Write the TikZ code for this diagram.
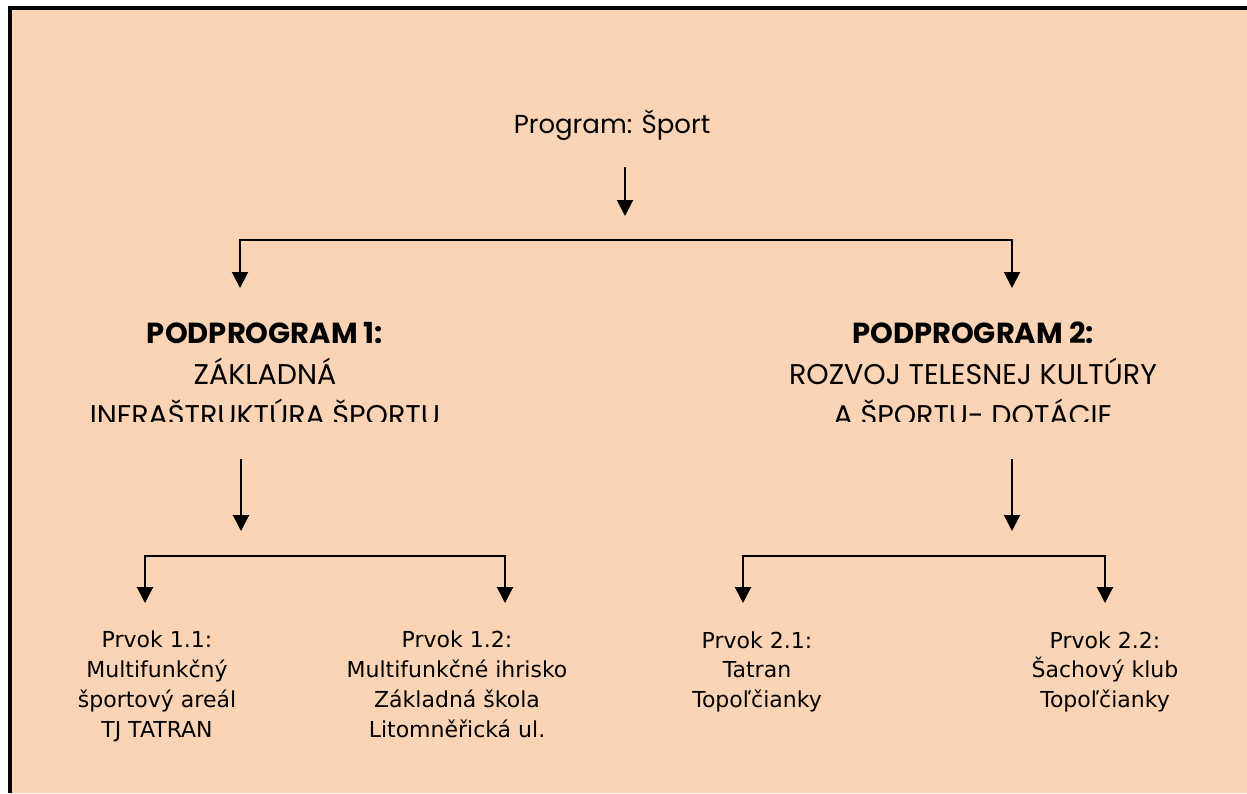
\documentclass[tikz,border=0pt]{standalone}
\usepackage{fontspec}
\setmainfont{DejaVu Sans}
\newfontfamily\geofont{Poppins}
\usetikzlibrary{arrows.meta}
\definecolor{peach}{HTML}{FAD4B4}
\newcommand{\subhead}[1]{{\fontsize{29}{41}\selectfont\bfseries #1}}
\begin{document}
\begin{tikzpicture}[x=1pt,y=-1pt,
  link/.style={line width=2pt},
  tip/.tip={Triangle[width=16pt,length=16pt]},
  arr/.style={link,-tip},
  fork/.style={link,tip-tip},
  progtext/.style={inner sep=0pt,font=\geofont\fontsize{26}{41}\selectfont},
  subtext/.style={inner sep=0pt,align=center,font=\geofont\fontsize{28.5}{41}\selectfont},
  itemtext/.style={inner sep=0pt,align=center,font=\fontsize{22}{29.7}\selectfont}
]
\useasboundingbox (0,0) rectangle (1247,793);
% page background and frame
\fill[peach] (12,10) rectangle (1247,793);
\fill[black] (8,6) rectangle (1247,10);
\fill[black] (8,6) rectangle (12,793);

% program
\node[progtext,anchor=base] (prog) at (612,133) {Program: Šport};
\coordinate (p0) at (625,167);
\coordinate (p1) at (625,216);
\draw[arr] (p0) -- (p1);

% fork to the two subprograms
\coordinate (fL) at (240,288);
\coordinate (fLc) at (240,240);
\coordinate (fRc) at (1012,240);
\coordinate (fR) at (1012,288);
\draw[fork] (fL) -- (fLc) -- (fRc) -- (fR);

% subprogram titles, cut at the bottom of their frame
% (anchor base = baseline of the last line)
\begin{scope}
\clip (0,300) rectangle (1247,421);
\node[subtext,anchor=base] (sp1) at (265,425)
  {\subhead{PODPROGRAM 1:}\\ZÁKLADNÁ\\INFRAŠTRUKTÚRA ŠPORTU};
\node[subtext,anchor=base] (sp2) at (973,425)
  {\subhead{PODPROGRAM 2:}\\ROZVOJ TELESNEJ KULTÚRY\\A ŠPORTU- DOTÁCIE};
\end{scope}

% subprogram 1 branches
\coordinate (s1a) at (241,459);
\coordinate (s1b) at (241,531);
\draw[arr] (s1a) -- (s1b);
\coordinate (g1L) at (145,603);
\coordinate (g1Lc) at (145,556);
\coordinate (g1Rc) at (505,556);
\coordinate (g1R) at (505,603);
\draw[fork] (g1L) -- (g1Lc) -- (g1Rc) -- (g1R);

% subprogram 2 branches
\coordinate (s2a) at (1012,459);
\coordinate (s2b) at (1012,531);
\draw[arr] (s2a) -- (s2b);
\coordinate (g2L) at (743,603);
\coordinate (g2Lc) at (743,556);
\coordinate (g2Rc) at (1105,556);
\coordinate (g2R) at (1105,603);
\draw[fork] (g2L) -- (g2Lc) -- (g2Rc) -- (g2R);

% elements (anchor base = baseline of the last line)
\node[itemtext,anchor=base] (e11) at (157,737)
  {Prvok 1.1:\\Multifunkčný\\športový areál\\TJ TATRAN};
\node[itemtext,anchor=base] (e12) at (457,737)
  {Prvok 1.2:\\Multifunkčné ihrisko\\Základná škola\\Litomněřická ul.};
\node[itemtext,anchor=base] (e21) at (757,707.4)
  {Prvok 2.1:\\Tatran\\Topoľčianky};
\node[itemtext,anchor=base] (e22) at (1105,707.4)
  {Prvok 2.2:\\Šachový klub\\Topoľčianky};
\end{tikzpicture}
\end{document}
